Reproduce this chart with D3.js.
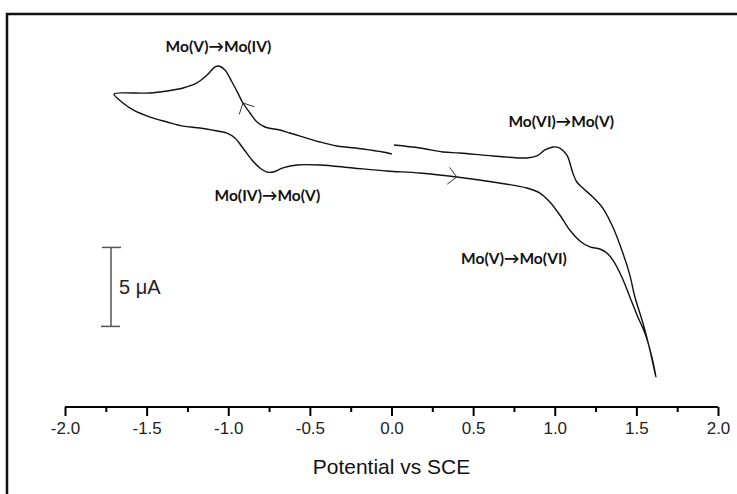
<!DOCTYPE html>
<html>
<head>
<meta charset="utf-8">
<script src="https://cdn.jsdelivr.net/npm/d3@7"></script>
<style>
  body { margin: 0; background: #fff; }
  svg { display: block; }
</style>
</head>
<body>
<div id="cv_chart"></div>
<script>
// potential (V vs SCE) and current (uA, cathodic up), in scan order
const potential = [
  0.002, -0.053, -0.175, -0.334, -0.438, -0.622, -0.684, -0.775, -0.824, -0.867,
  -0.910, -0.941, -0.977, -1.020, -1.057, -1.081, -1.130, -1.192, -1.277, -1.375,
  -1.479, -1.583, -1.700,
  -1.645, -1.583, -1.479, -1.375, -1.277, -1.173, -1.069, -1.008, -0.959, -0.910,
  -0.855, -0.806, -0.763, -0.726, -0.665, -0.579, -0.438, -0.236, -0.028, 0.174,
  0.400, 0.621, 0.829, 0.909, 0.970, 1.031, 1.092, 1.154, 1.215, 1.276,
  1.319, 1.356, 1.411, 1.460, 1.509, 1.552, 1.595, 1.620,
  1.614, 1.583, 1.540, 1.491, 1.460, 1.417, 1.356, 1.294, 1.233, 1.172,
  1.135, 1.111, 1.074, 1.031, 0.989, 0.940, 0.891, 0.829, 0.621, 0.419,
  0.315, 0.174, 0.015
];
const current = [
  1.01, 1.14, 1.33, 1.52, 1.77, 2.34, 2.53, 2.72, 3.04, 3.61,
  4.24, 4.87, 5.57, 6.33, 6.58, 6.52, 6.01, 5.51, 5.19, 5.00,
  4.87, 4.87, 4.81,
  4.24, 3.80, 3.35, 3.04, 2.78, 2.66, 2.47, 2.34, 2.03, 1.39,
  0.63, 0.13, -0.13, -0.13, 0.13, 0.32, 0.32, 0.13, -0.06, -0.19,
  -0.44, -0.76, -1.14, -1.46, -2.03, -2.85, -3.80, -4.49, -4.87, -5.00,
  -5.25, -5.70, -6.77, -8.04, -9.30, -10.32, -11.84, -13.10,
  -12.85, -11.39, -9.68, -8.04, -6.65, -5.25, -3.61, -2.41, -1.71, -1.14,
  -0.76, -0.19, 0.95, 1.39, 1.46, 1.27, 0.89, 0.76, 0.89, 1.08,
  1.14, 1.39, 1.58
];

// scan direction arrows sit on these points of the curve
const arrowAt = [10, 43];

// peak annotations
const peakLabels = ["Mo(V)\u2192Mo(IV)", "Mo(VI)\u2192Mo(V)", "Mo(IV)\u2192Mo(V)", "Mo(V)\u2192Mo(VI)"];
const peakLabelV = [-1.06, 1.04, -0.76, 0.75];
const peakLabelI = [7.5, 2.7, -1.95, -5.95];

const xTicks = [-2.0, -1.5, -1.0, -0.5, 0.0, 0.5, 1.0, 1.5, 2.0];
const xMinorTicks = [-1.75, -1.25, -0.75, -0.25, 0.25, 0.75, 1.25, 1.75];
const xTitle = "Potential vs SCE";

// scale bar: 5 uA
const barTop = -4.9;
const barSize = 5;
const barText = "5 \u03bcA";

const W = 737, H = 494;

const svg = d3.select("#cv_chart")
  .append("svg")
  .attr("width", W)
  .attr("height", H);

// frame (top + left only, like the cropped original)
svg.append("path")
  .attr("d", "M7,494 V14 H737")
  .attr("fill", "none")
  .attr("stroke", "#111")
  .attr("stroke-width", 2.5);

const x = d3.scaleLinear().domain([-2, 2]).range([65, 718]);
const y = d3.scaleLinear().domain([-15, 10]).range([407, 12]);

// x axis: minor ticks in their own group, then the labelled major ticks
const minorAxis = svg.append("g")
  .attr("transform", "translate(0," + y(-15) + ")")
  .call(d3.axisBottom(x).tickValues(xMinorTicks).tickSize(5).tickFormat(""));
minorAxis.select(".domain").remove();
minorAxis.selectAll(".tick line").attr("stroke", "#000").attr("stroke-width", 2);

const axis = svg.append("g")
  .attr("transform", "translate(0," + y(-15) + ")")
  .call(d3.axisBottom(x).tickValues(xTicks).tickSize(9).tickPadding(6)
    .tickFormat(d => d3.format(".1f")(d).replace("\u2212", "-")));

axis.select(".domain").attr("d", "M" + x(-2) + ",0H" + x(2))
  .attr("stroke", "#000").attr("stroke-width", 2);
axis.selectAll(".tick line").attr("stroke", "#000").attr("stroke-width", 2);
axis.selectAll(".tick text")
  .attr("fill", "#222")
  .style("font-family", "'Liberation Sans', Arial, sans-serif")
  .style("font-size", "17px");

svg.append("text")
  .attr("x", x(0))
  .attr("y", 474)
  .attr("text-anchor", "middle")
  .style("font-family", "'Liberation Sans', Arial, sans-serif")
  .style("font-size", "21px")
  .attr("fill", "#111")
  .text(xTitle);

// the voltammogram
const pts = potential.map((v, i) => [v, current[i]]);
const line = d3.line()
  .x(d => x(d[0]))
  .y(d => y(d[1]))
  .curve(d3.curveCatmullRom.alpha(0.5));

svg.append("path")
  .datum(pts)
  .attr("fill", "none")
  .attr("stroke", "#111")
  .attr("stroke-width", 1.4)
  .attr("d", line);

// scan direction arrowheads
arrowAt.forEach(k => {
  const px = x(pts[k][0]), py = y(pts[k][1]);
  const nx = x(pts[k + 1][0]), ny = y(pts[k + 1][1]);
  const a = Math.atan2(ny - py, nx - px);
  const len = 12, spread = Math.PI / 4;
  const b1 = a + Math.PI - spread, b2 = a + Math.PI + spread;
  svg.append("path")
    .attr("d", "M" + (px + len * Math.cos(b1)) + "," + (py + len * Math.sin(b1)) +
      "L" + px + "," + py +
      "L" + (px + len * Math.cos(b2)) + "," + (py + len * Math.sin(b2)))
    .attr("fill", "none")
    .attr("stroke", "#333")
    .attr("stroke-width", 1);
});

// peak labels
svg.selectAll(".peak")
  .data(peakLabels)
  .enter()
  .append("text")
  .attr("class", "peak")
  .attr("x", (d, i) => x(peakLabelV[i]))
  .attr("y", (d, i) => y(peakLabelI[i]))
  .attr("text-anchor", "middle")
  .style("font-family", "Lato, 'Open Sans', sans-serif")
  .style("font-weight", "bold")
  .style("font-size", "15.5px")
  .attr("fill", "#111")
  .text(d => d);

// 5 uA scale bar
const bx = 111;
const bar = svg.append("g").attr("stroke", "#555").attr("stroke-width", 1.5);
bar.append("line").attr("x1", bx).attr("x2", bx).attr("y1", y(barTop)).attr("y2", y(barTop - barSize));
bar.append("line").attr("x1", bx - 9).attr("x2", bx + 10).attr("y1", y(barTop)).attr("y2", y(barTop));
bar.append("line").attr("x1", bx - 10).attr("x2", bx + 9).attr("y1", y(barTop - barSize)).attr("y2", y(barTop - barSize));

svg.append("text")
  .attr("x", bx + 8)
  .attr("y", y(barTop - barSize / 2) + 7)
  .style("font-family", "'Liberation Sans', Arial, sans-serif")
  .style("font-size", "20px")
  .attr("fill", "#222")
  .text(barText);
</script>
</body>
</html>
